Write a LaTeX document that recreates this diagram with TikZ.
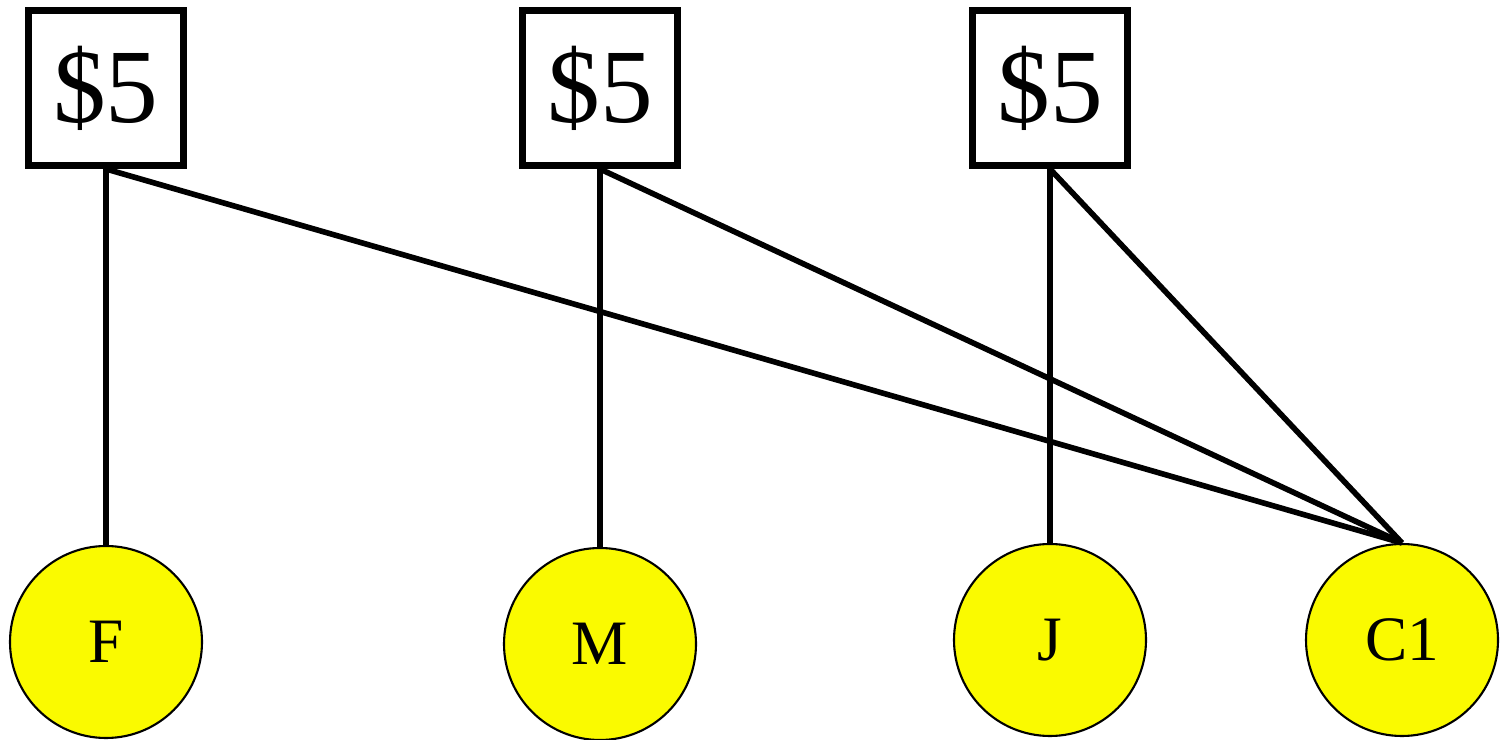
\documentclass[tikz,border=0pt]{standalone}
\usepackage{fontspec}
\setmainfont{Liberation Serif}
\usepackage{tikz}
\usetikzlibrary{positioning}
\definecolor{tkyellow}{HTML}{FAFA00}

\begin{document}
\begin{tikzpicture}[
  price/.style={
    rectangle, draw=black, fill=white, line width=2pt,
    minimum size=1.55cm, inner sep=0pt,
    font=\fontsize{30}{32}\selectfont
  },
  person/.style={
    circle, draw=black, fill=tkyellow, line width=0.6pt,
    minimum size=1.92cm, inner sep=0pt,
    font=\fontsize{18}{20}\selectfont
  },
  link/.style={line width=1.6pt, draw=black},
]
\useasboundingbox (0,0) rectangle (15.07,7.39);

% prices
\node[price] (p1) at (1.06,6.51) {\$5};
\node[price] (p2) at (6.00,6.51) {\$5};
\node[price] (p3) at (10.50,6.51) {\$5};

% people
\node[person] (f)  at (1.06,0.97)  {F};
\node[person] (m)  at (6.00,0.95)  {M};
\node[person] (j)  at (10.50,0.99) {J};
\node[person] (c1) at (14.02,0.99) {C1};

% links
\draw[link] (p1.south) -- (f.north);
\draw[link] (p2.south) -- (m.north);
\draw[link] (p3.south) -- (j.north);
\draw[link] (p1.south) -- (c1.north);
\draw[link] (p2.south) -- (c1.north);
\draw[link] (p3.south) -- (c1.north);

\end{tikzpicture}
\end{document}
